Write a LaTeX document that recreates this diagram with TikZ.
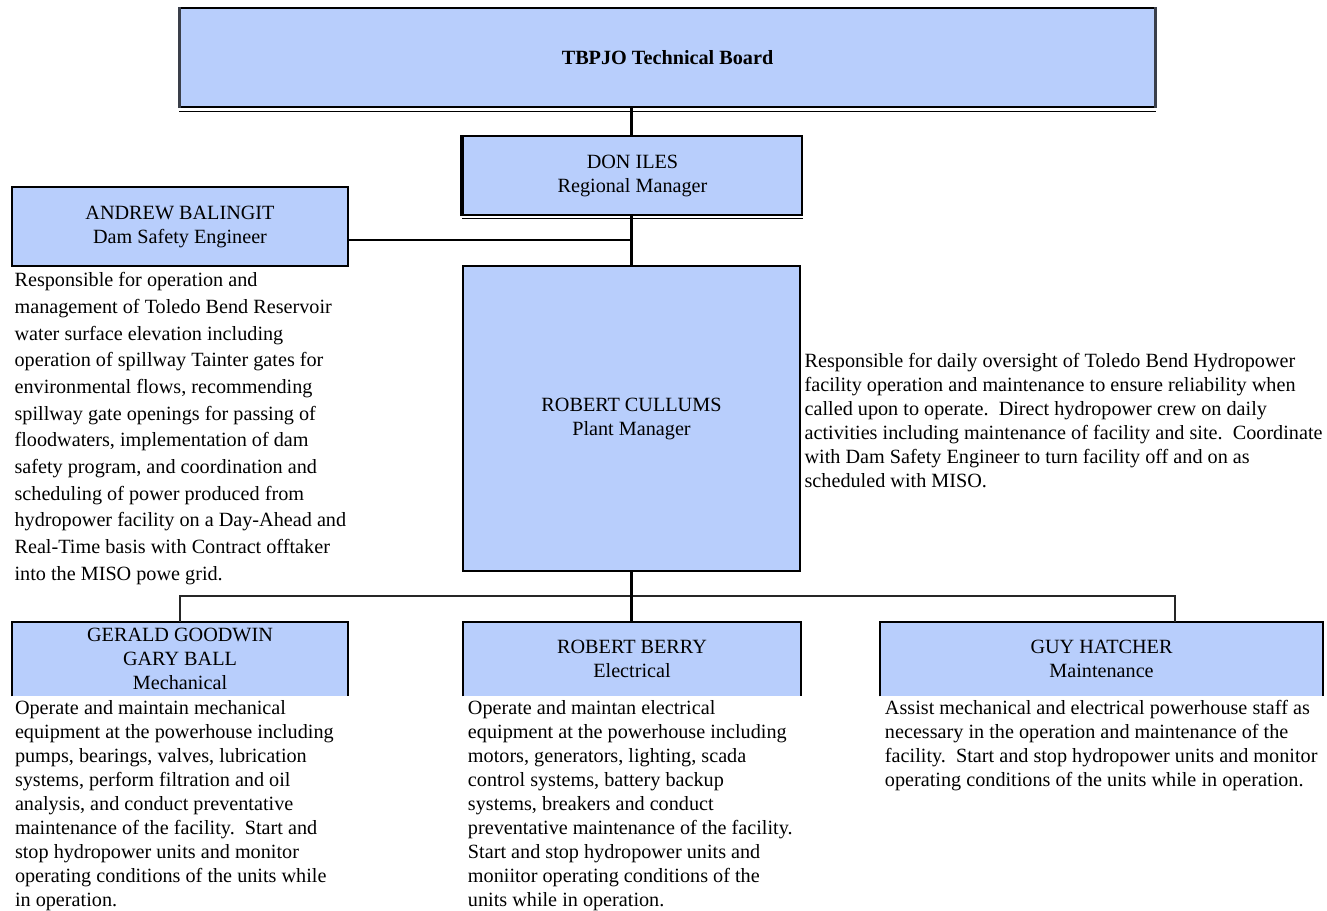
\documentclass[tikz,border=0pt]{standalone}
\usepackage{fontspec}
\setmainfont{Liberation Serif}
\usepackage{xcolor}
\usepackage{tikz}
\usetikzlibrary{positioning,calc}
\definecolor{rolefill}{HTML}{B8CEFC}
\definecolor{edgegray}{HTML}{3A3F4A}
\newcommand{\orgfont}{\fontsize{11.5}{13.66}\selectfont}

\begin{document}
\begin{tikzpicture}[x=0.02cm, y=-0.02cm,
  role/.style={draw, fill=rolefill, line width=0.9pt, align=center, inner sep=0pt, font=\orgfont},
  openrole/.style={fill=rolefill, align=center, inner sep=0pt, font=\orgfont},
  duties/.style={align=left, anchor=north west, inner sep=0pt, font=\orgfont},
  conn/.style={line width=1.7pt},
  busline/.style={line width=1.1pt, black!85}
]
  \useasboundingbox (0,0) rectangle (1327,911);

  % boxes
  \node[role, minimum width=19.5cm, minimum height=1.98cm] (board) at (667.5,57.5) {\textbf{TBPJO Technical Board}};
  \node[role, minimum width=6.78cm, minimum height=1.58cm] (don) at (632.5,175.5) {DON ILES\\Regional Manager};
  \node[role, minimum width=6.72cm, minimum height=1.58cm] (andrew) at (180,226.5) {ANDREW BALINGIT\\Dam Safety Engineer};
  \node[role, minimum width=6.74cm, minimum height=6.1cm] (plant) at (631.5,418.5) {ROBERT CULLUMS\\Plant Manager};
  \node[openrole, minimum width=6.72cm, minimum height=1.48cm] (mech) at (180,659) {GERALD GOODWIN\\GARY BALL\\Mechanical};
  \node[openrole, minimum width=6.76cm, minimum height=1.48cm] (elec) at (632,659) {ROBERT BERRY\\Electrical};
  \node[openrole, minimum width=8.86cm, minimum height=1.48cm] (maint) at (1101.5,659) {GUY HATCHER\\Maintenance};

  % heavier edges
  \draw[line width=2pt, edgegray] (board.north west) -- (board.south west);
  \draw[line width=2pt, edgegray] (board.north east) -- (board.south east);
  \draw[line width=0.6pt] ([yshift=-2pt]board.south west) -- ([yshift=-2pt]board.south east);
  \draw[line width=2pt] (don.north west) -- (don.south west);
  \draw[line width=0.6pt] ([yshift=-1.5pt]don.south west) -- ([yshift=-1.5pt]don.south east);
  \foreach \b in {mech,elec,maint}
    \draw[line width=1.1pt] (\b.south west) -- (\b.north west) -- (\b.north east) -- (\b.south east);

  % duties
  \node[duties, font=\fontsize{11.5}{15.2}\selectfont] (andrewtxt) at ([xshift=1.7pt,yshift=-3pt]andrew.south west) {Responsible for operation and\\
management of Toledo Bend Reservoir\\
water surface elevation including\\
operation of spillway Tainter gates for\\
environmental flows, recommending\\
spillway gate openings for passing of\\
floodwaters, implementation of dam\\
safety program, and coordination and\\
scheduling of power produced from\\
hydropower facility on a Day-Ahead and\\
Real-Time basis with Contract offtaker\\
into the MISO powe grid.};
  \node[duties, anchor=west] (planttxt) at ([xshift=2pt,yshift=-1pt]plant.east) {Responsible for daily oversight of Toledo Bend Hydropower\\
facility operation and maintenance to ensure reliability when\\
called upon to operate.\ \ Direct hydropower crew on daily\\
activities including maintenance of facility and site.\ \ Coordinate\\
with Dam Safety Engineer to turn facility off and on as\\
scheduled with MISO.};
  \node[duties] (mechtxt) at ([xshift=1.7pt,yshift=-2.3pt]mech.south west) {Operate and maintain mechanical\\
equipment at the powerhouse including\\
pumps, bearings, valves, lubrication\\
systems, perform filtration and oil\\
analysis, and conduct preventative\\
maintenance of the facility.\ \ Start and\\
stop hydropower units and monitor\\
operating conditions of the units while\\
in operation.};
  \node[duties] (electxt) at ([xshift=2.8pt,yshift=-2.3pt]elec.south west) {Operate and maintan electrical\\
equipment at the powerhouse including\\
motors, generators, lighting, scada\\
control systems, battery backup\\
systems, breakers and conduct\\
preventative maintenance of the facility.\\
Start and stop hydropower units and\\
moniitor operating conditions of the\\
units while in operation.};
  \node[duties] (mainttxt) at ([xshift=2.8pt,yshift=-2.3pt]maint.south west) {Assist mechanical and electrical powerhouse staff as\\
necessary in the operation and maintenance of the\\
facility.\ \ Start and stop hydropower units and monitor\\
operating conditions of the units while in operation.};

  % connectors
  \coordinate (tap) at (631,240);
  \coordinate (buse) at (1175,596);
  \draw[conn] (don.north -| tap) -- (board.south -| tap);
  \draw[conn] (don.south -| tap) -- (plant.north -| tap);
  \draw[conn] (andrew.east |- tap) -- (tap);
  \draw[busline] (mech.north) |- (buse) -- (buse |- maint.north);
  \draw[conn] (plant.south -| tap) -- (elec.north -| tap);
\end{tikzpicture}
\end{document}
